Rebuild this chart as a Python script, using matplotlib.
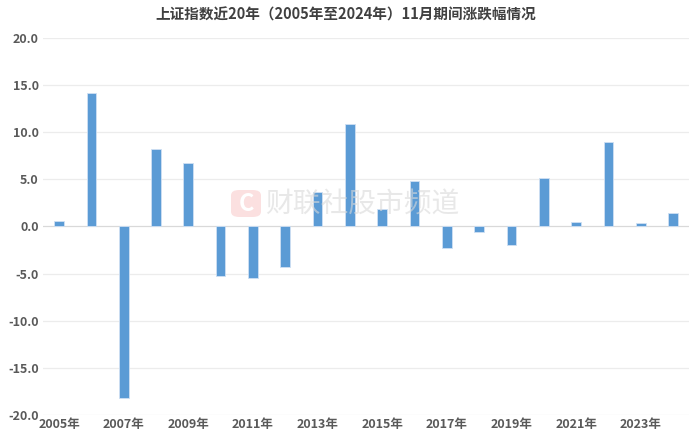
import matplotlib
matplotlib.use("Agg")
import matplotlib.pyplot as plt
from matplotlib.patches import FancyBboxPatch

plt.rcParams['font.family'] = ['Noto Sans CJK SC', 'DejaVu Sans']

years = [str(y) for y in range(2005, 2025)]
changes = [0.6, 14.2, -18.2, 8.2, 6.7, -5.3, -5.45, -4.3, 3.7, 10.85,
           1.86, 4.82, -2.24, -0.56, -1.95, 5.19, 0.47, 8.91, 0.36, 1.42]
tick_labels = [y + '年' for y in years]
title = '上证指数近20年（2005年至2024年）11月期间涨跌幅情况'
yticks = [20, 15, 10, 5, 0, -5, -10, -15, -20]

fig = plt.figure(figsize=(6.92, 4.41), dpi=100)
ax = fig.add_axes([0.062, 0.059, 0.934, 0.855])

x = list(range(len(years)))
ax.bar(x, changes, width=0.3, color='#5B9BD5', edgecolor='#cfe0f3', linewidth=0.6, zorder=3)

ax.set_xlim(-0.5, len(years) - 0.5)
ax.set_ylim(-20, 20)
ax.set_yticks(yticks)
ax.set_yticklabels([f'{v:.1f}' for v in yticks], fontsize=9, fontweight='bold', color='#595959')
ax.set_xticks(x[::2])
ax.set_xticklabels(tick_labels[::2], fontsize=9, fontweight='bold', color='#595959')
ax.tick_params(length=0, pad=3)
ax.tick_params(axis='x', pad=2)

for v in yticks:
    ax.axhline(v, color='#d9d9d9' if v == 0 else '#ececec', linewidth=0.9, zorder=1)
for s in ax.spines.values():
    s.set_visible(False)

fig.text(0.5, 0.968, title, ha='center', va='center', fontsize=10.5,
         fontweight='bold', color='#404040')

# watermark
logo = FancyBboxPatch((231 / 692, 1 - 217 / 441), 30 / 692, 27 / 441,
                      boxstyle='round,pad=0,rounding_size=0.012',
                      transform=fig.transFigure, facecolor='#fbd9d9',
                      edgecolor='none', alpha=0.8, zorder=5)
fig.patches.append(logo)
fig.text(246 / 692, 1 - 204 / 441, 'C', ha='center', va='center', fontsize=17,
         fontweight='bold', color='white', zorder=6)
fig.text(265 / 692, 1 - 204 / 441, '财联社股市频道', ha='left', va='center',
         fontsize=20, color='#d9d9d9', alpha=0.6, zorder=6)

fig.savefig('out.png', dpi=100)
